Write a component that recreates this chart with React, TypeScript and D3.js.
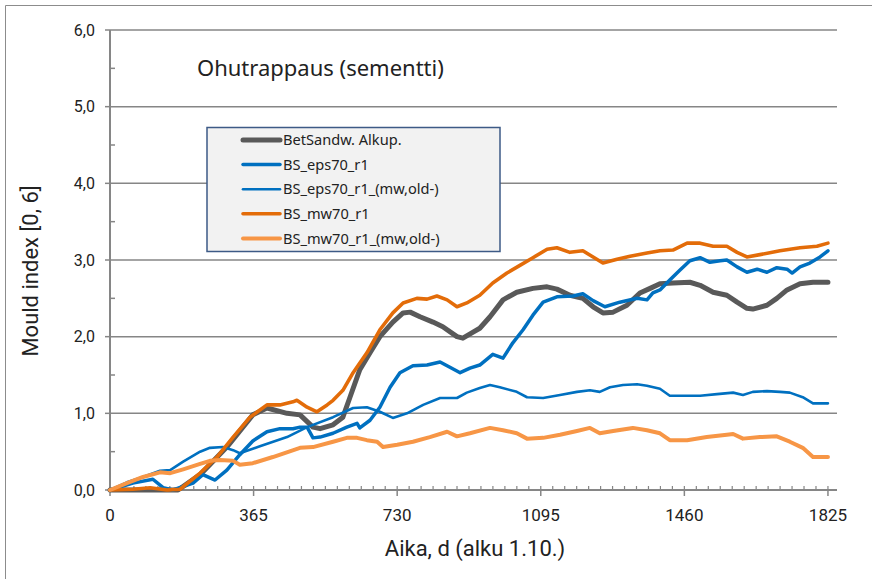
import React from "react";
import * as d3 from "d3";

type Pt = [number, number];

const xTicks = [0, 365, 730, 1095, 1460, 1825];
const yTicks = [0, 1, 2, 3, 4, 5, 6];
const yTickLabels = ["0,0", "1,0", "2,0", "3,0", "4,0", "5,0", "6,0"];

const seriesNames = [
  "BetSandw. Alkup.",
  "BS_eps70_r1",
  "BS_eps70_r1_(mw,old-)",
  "BS_mw70_r1",
  "BS_mw70_r1_(mw,old-)",
];

const betSandw: Pt[] = [
  [0, 0], [173, 0], [229, 0.2], [297, 0.56], [363, 0.98], [399, 1.07], [450, 1.0], [483, 0.98],
  [516, 0.82], [534, 0.8], [567, 0.85], [592, 0.95], [610, 1.21], [635, 1.57], [661, 1.79],
  [686, 2.0], [719, 2.19], [745, 2.31], [763, 2.32], [788, 2.26], [821, 2.19], [846, 2.13],
  [882, 2.0], [897, 1.98], [923, 2.06], [940, 2.11], [966, 2.26], [999, 2.48], [1034, 2.58],
  [1075, 2.63], [1111, 2.65], [1136, 2.62], [1169, 2.54], [1202, 2.5], [1228, 2.39],
  [1253, 2.31], [1279, 2.32], [1314, 2.41], [1347, 2.57], [1373, 2.63], [1398, 2.69],
  [1431, 2.7], [1474, 2.71], [1500, 2.67], [1533, 2.58], [1568, 2.54], [1594, 2.45],
  [1619, 2.37], [1634, 2.36], [1670, 2.41], [1695, 2.5], [1721, 2.61], [1754, 2.69],
  [1787, 2.71], [1825, 2.71],
];

const eps70: Pt[] = [
  [0, 0], [58, 0.09], [109, 0.14], [135, 0.03], [160, 0], [211, 0.09], [236, 0.2], [267, 0.13],
  [297, 0.26], [330, 0.46], [363, 0.64], [399, 0.76], [432, 0.8], [465, 0.8], [483, 0.82],
  [501, 0.82], [516, 0.68], [534, 0.69], [567, 0.74], [602, 0.82], [628, 0.87], [635, 0.81],
  [661, 0.91], [686, 1.08], [712, 1.34], [737, 1.53], [770, 1.62], [806, 1.63], [839, 1.67],
  [864, 1.6], [890, 1.53], [915, 1.59], [940, 1.63], [973, 1.77], [999, 1.72], [1024, 1.92],
  [1050, 2.09], [1075, 2.28], [1101, 2.45], [1136, 2.52], [1177, 2.53], [1202, 2.56],
  [1228, 2.47], [1258, 2.39], [1296, 2.45], [1340, 2.5], [1365, 2.48], [1380, 2.57],
  [1398, 2.61], [1423, 2.74], [1449, 2.87], [1474, 2.99], [1500, 3.03], [1525, 2.97],
  [1551, 2.99], [1568, 3.0], [1594, 2.91], [1619, 2.84], [1645, 2.88], [1670, 2.84],
  [1695, 2.9], [1721, 2.88], [1734, 2.83], [1754, 2.91], [1779, 2.96], [1805, 3.04],
  [1825, 3.12],
];

const eps70Old: Pt[] = [
  [0, 0], [43, 0.1], [84, 0.17], [127, 0.25], [153, 0.26], [186, 0.37], [229, 0.5], [254, 0.55],
  [287, 0.56], [313, 0.52], [330, 0.48], [381, 0.57], [450, 0.69], [501, 0.82], [567, 0.95],
  [618, 1.07], [653, 1.08], [686, 1.02], [719, 0.94], [755, 1.0], [796, 1.11], [839, 1.2],
  [882, 1.2], [907, 1.27], [940, 1.33], [966, 1.37], [991, 1.34], [1034, 1.28], [1060, 1.21],
  [1101, 1.2], [1144, 1.24], [1187, 1.28], [1220, 1.3], [1245, 1.28], [1271, 1.34],
  [1304, 1.37], [1340, 1.38], [1365, 1.36], [1398, 1.32], [1423, 1.23], [1467, 1.23],
  [1500, 1.23], [1543, 1.25], [1584, 1.27], [1609, 1.24], [1634, 1.28], [1670, 1.29],
  [1703, 1.28], [1728, 1.27], [1761, 1.21], [1787, 1.13], [1825, 1.13],
];

const mw70: Pt[] = [
  [0, 0], [58, 0.01], [102, 0.03], [145, 0], [178, 0.01], [229, 0.22], [272, 0.43], [313, 0.69],
  [356, 0.95], [399, 1.11], [432, 1.11], [465, 1.15], [475, 1.17], [501, 1.08], [526, 1.02],
  [552, 1.11], [567, 1.17], [592, 1.3], [618, 1.53], [653, 1.79], [686, 2.09], [719, 2.31],
  [745, 2.44], [780, 2.5], [806, 2.49], [831, 2.53], [857, 2.48], [882, 2.39], [907, 2.44],
  [940, 2.54], [973, 2.7], [1009, 2.83], [1042, 2.93], [1075, 3.03], [1111, 3.14],
  [1136, 3.16], [1169, 3.1], [1202, 3.12], [1228, 3.04], [1253, 2.96], [1289, 3.01],
  [1322, 3.05], [1365, 3.09], [1398, 3.12], [1431, 3.13], [1467, 3.22], [1500, 3.22],
  [1533, 3.18], [1568, 3.18], [1594, 3.1], [1619, 3.04], [1652, 3.07], [1703, 3.12],
  [1754, 3.16], [1797, 3.18], [1825, 3.22],
];

const mw70Old: Pt[] = [
  [0, 0], [43, 0.09], [84, 0.17], [127, 0.23], [153, 0.22], [186, 0.27], [229, 0.34], [254, 0.38],
  [280, 0.39], [313, 0.38], [330, 0.33], [363, 0.35], [414, 0.43], [483, 0.55], [516, 0.56],
  [567, 0.63], [602, 0.68], [628, 0.68], [653, 0.65], [679, 0.63], [694, 0.56], [730, 0.59],
  [770, 0.63], [813, 0.69], [857, 0.76], [882, 0.7], [915, 0.74], [966, 0.81], [999, 0.78],
  [1034, 0.74], [1060, 0.67], [1101, 0.68], [1144, 0.72], [1187, 0.77], [1220, 0.81],
  [1245, 0.74], [1279, 0.77], [1329, 0.81], [1365, 0.78], [1398, 0.74], [1423, 0.65],
  [1467, 0.65], [1517, 0.69], [1568, 0.72], [1584, 0.73], [1609, 0.67], [1652, 0.69],
  [1695, 0.7], [1728, 0.63], [1761, 0.55], [1787, 0.43], [1825, 0.43],
];

const allSeries = [betSandw, eps70, eps70Old, mw70, mw70Old];
const colors = ["#595959", "#0070c0", "#0070c0", "#e36c09", "#f79646"];
const widths = [5, 3.5, 2.6, 3.6, 4];

export default function App() {
  const W = 872, H = 579;
  const x = d3.scaleLinear().domain([0, 1848]).range([110, 837]);
  const y = d3.scaleLinear().domain([0, 6]).range([490, 30]);
  const line = d3.line<Pt>().x((d) => x(d[0])).y((d) => y(d[1]));
  const minorX = d3.range(0, 1826, 365 / 12);
  const minorY = [0.5, 1.5, 2.5, 3.5, 4.5, 5.5];
  const axisColor = "#868686";
  const font = "Roboto, 'Liberation Sans', Arial, sans-serif";
  const legendFont = "'Noto Sans', 'DejaVu Sans', sans-serif";

  return (
    <svg width={W} height={H} style={{ position: "absolute", left: 0, top: 0, background: "#fff" }}>
      <rect x={0} y={0} width={W} height={H} fill="#fff" />
      <line x1={5.5} y1={5.5} x2={W} y2={5.5} stroke="#8c8c8c" strokeWidth={1} />
      <line x1={5.5} y1={5.5} x2={5.5} y2={H} stroke="#8c8c8c" strokeWidth={1} />
      {yTicks.slice(1).map((t) => (
        <line key={"g" + t} x1={x(0)} x2={837} y1={y(t)} y2={y(t)} stroke={axisColor} strokeWidth={1.5} />
      ))}
      <line x1={x(0)} x2={x(0)} y1={y(6)} y2={y(0)} stroke={axisColor} strokeWidth={2} />
      <line x1={x(0)} x2={837} y1={y(0)} y2={y(0)} stroke={axisColor} strokeWidth={2} />
      {yTicks.map((t) => (
        <line key={"yt" + t} x1={x(0) - 5} x2={x(0)} y1={y(t)} y2={y(t)} stroke={axisColor} strokeWidth={1.5} />
      ))}
      {minorY.map((t) => (
        <line key={"ym" + t} x1={x(0)} x2={x(0) + 5} y1={y(t)} y2={y(t)} stroke={axisColor} strokeWidth={1.5} />
      ))}
      {minorX.map((t, i) => (
        <line key={"xm" + i} x1={x(t)} x2={x(t)} y1={y(0) - 4} y2={y(0)} stroke={axisColor} strokeWidth={1.2} />
      ))}
      {xTicks.map((t) => (
        <line key={"xt" + t} x1={x(t)} x2={x(t)} y1={y(0)} y2={y(0) + 6} stroke={axisColor} strokeWidth={1.5} />
      ))}
      {yTicks.map((t, i) => (
        <text key={"yl" + t} x={95} y={y(t)} dy="0.35em" textAnchor="end" fontFamily={font} fontSize={16} fill="#222">
          {yTickLabels[i]}
        </text>
      ))}
      {xTicks.map((t) => (
        <text key={"xl" + t} x={x(t)} y={521} textAnchor="middle" fontFamily={font} fontSize={17} fill="#222">
          {t}
        </text>
      ))}
      <text x={475} y={556} textAnchor="middle" fontFamily={font} fontSize={22} fill="#222">
        Aika, d (alku 1.10.)
      </text>
      <text transform="translate(38,271) rotate(-90)" textAnchor="middle" fontFamily={font} fontSize={22} fill="#222">
        Mould index [0, 6]
      </text>
      <text x={197} y={76} fontFamily={legendFont} fontSize={22} fill="#222">
        Ohutrappaus (sementti)
      </text>
      {allSeries.map((s, i) => (
        <path key={"s" + i} d={line(s) || ""} fill="none" stroke={colors[i]} strokeWidth={widths[i]}
          strokeLinejoin="round" strokeLinecap="round" />
      ))}
      <rect x={207} y={127.5} width={293} height={124} fill="#f2f2f2" stroke="#3d5a86" strokeWidth={1.5} />
      {seriesNames.map((n, i) => (
        <g key={"lg" + i} transform={`translate(0,${140 + i * 24.6})`}>
          <line x1={243} x2={280} y1={0} y2={0} stroke={colors[i]} strokeWidth={widths[i]} strokeLinecap="round" />
          <text x={283} y={0} dy="0.35em" fontFamily={legendFont} fontSize={14.6} fill="#222">
            {n}
          </text>
        </g>
      ))}
    </svg>
  );
}
